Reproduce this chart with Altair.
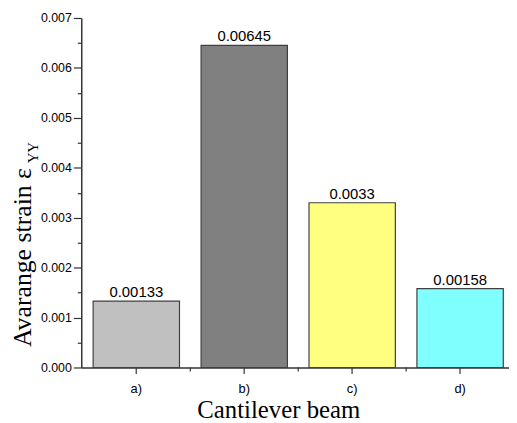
import altair as alt
import pandas as pd

cats = ["a)", "b)", "c)", "d)"]
vals = [0.00133, 0.00645, 0.0033, 0.00158]
labels = ["0.00133", "0.00645", "0.0033", "0.00158"]
colors = ["#C0C0C0", "#808080", "#FFFF80", "#80FFFF"]
y_ticks = [i * 0.0005 for i in range(15)]
boundary_cats = ["a)", "b)", "c)"]

df = pd.DataFrame({"cat": cats, "val": vals, "label": labels})

major = "abs(datum.value*1000 - round(datum.value*1000)) < 0.01"

y_enc = alt.Y(
    "val:Q",
    scale=alt.Scale(domain=[0, 0.007], nice=False),
    axis=alt.Axis(
        title=None,
        values=y_ticks,
        labelExpr=f"({major}) ? format(datum.value, '.3f') : ''",
        tickSize={"condition": {"test": major, "value": 8}, "value": 4},
        labelFont="Liberation Sans",
        labelFontSize=12.5,
        labelColor="#000000",
        domainColor="#333333",
        domainWidth=1.5,
        tickColor="#333333",
        tickWidth=1.2,
        grid=False,
        labelPadding=2,
    ),
)

x_scale = alt.Scale(domain=cats, paddingInner=0.2, paddingOuter=0.0815, align=0.675)

x_enc = alt.X(
    "cat:N",
    sort=cats,
    scale=x_scale,
    axis=alt.Axis(
        title="Cantilever beam",
        titleFont="Liberation Serif",
        titleFontSize=25,
        titleFontWeight="normal",
        titleColor="#000000",
        titlePadding=3,
        titleX=199,
        titleAlign="center",
        labelAngle=0,
        labelFont="Liberation Sans",
        labelFontSize=13,
        labelColor="#000000",
        labelPadding=9,
        domainColor="#333333",
        domainWidth=1.5,
        tickColor="#333333",
        tickWidth=1.2,
        tickSize=6,
        grid=False,
    ),
)

base = alt.Chart(df).encode(x=x_enc, y=y_enc)

bars = base.mark_bar(stroke="#404040", strokeWidth=1.2).encode(
    color=alt.Color("cat:N", scale=alt.Scale(domain=cats, range=colors), legend=None)
)

text = base.mark_text(
    dy=-9, font="Liberation Sans", fontSize=15, color="#000000"
).encode(text="label:N")

bticks = alt.Chart(pd.DataFrame({"cat": boundary_cats})).mark_rule(
    color="#333333", strokeWidth=1.2, xOffset=10.9
).encode(
    x=alt.X("cat:N", sort=cats, bandPosition=1),
    y=alt.value(353),
    y2=alt.value(357),
)

ytitle_main = alt.Chart(pd.DataFrame({"t": ["Avarange strain \u03b5"]})).mark_text(
    angle=270, font="Liberation Serif", fontSize=26, color="#000000", align="center", baseline="middle"
).encode(x=alt.value(-59), y=alt.value(242), text="t:N")

ytitle_sub = alt.Chart(pd.DataFrame({"t": ["YY"]})).mark_text(
    angle=270, font="Liberation Serif", fontSize=15, color="#000000", align="center", baseline="middle"
).encode(x=alt.value(-49), y=alt.value(136), text="t:N")

chart = alt.layer(bars, text, bticks, ytitle_main, ytitle_sub).properties(
    width=432, height=353, padding={"top": 2, "left": 2, "right": 0, "bottom": 0}
).configure_view(stroke=None)

chart.save("out.html", embed_options={"renderer": "svg", "actions": False})
